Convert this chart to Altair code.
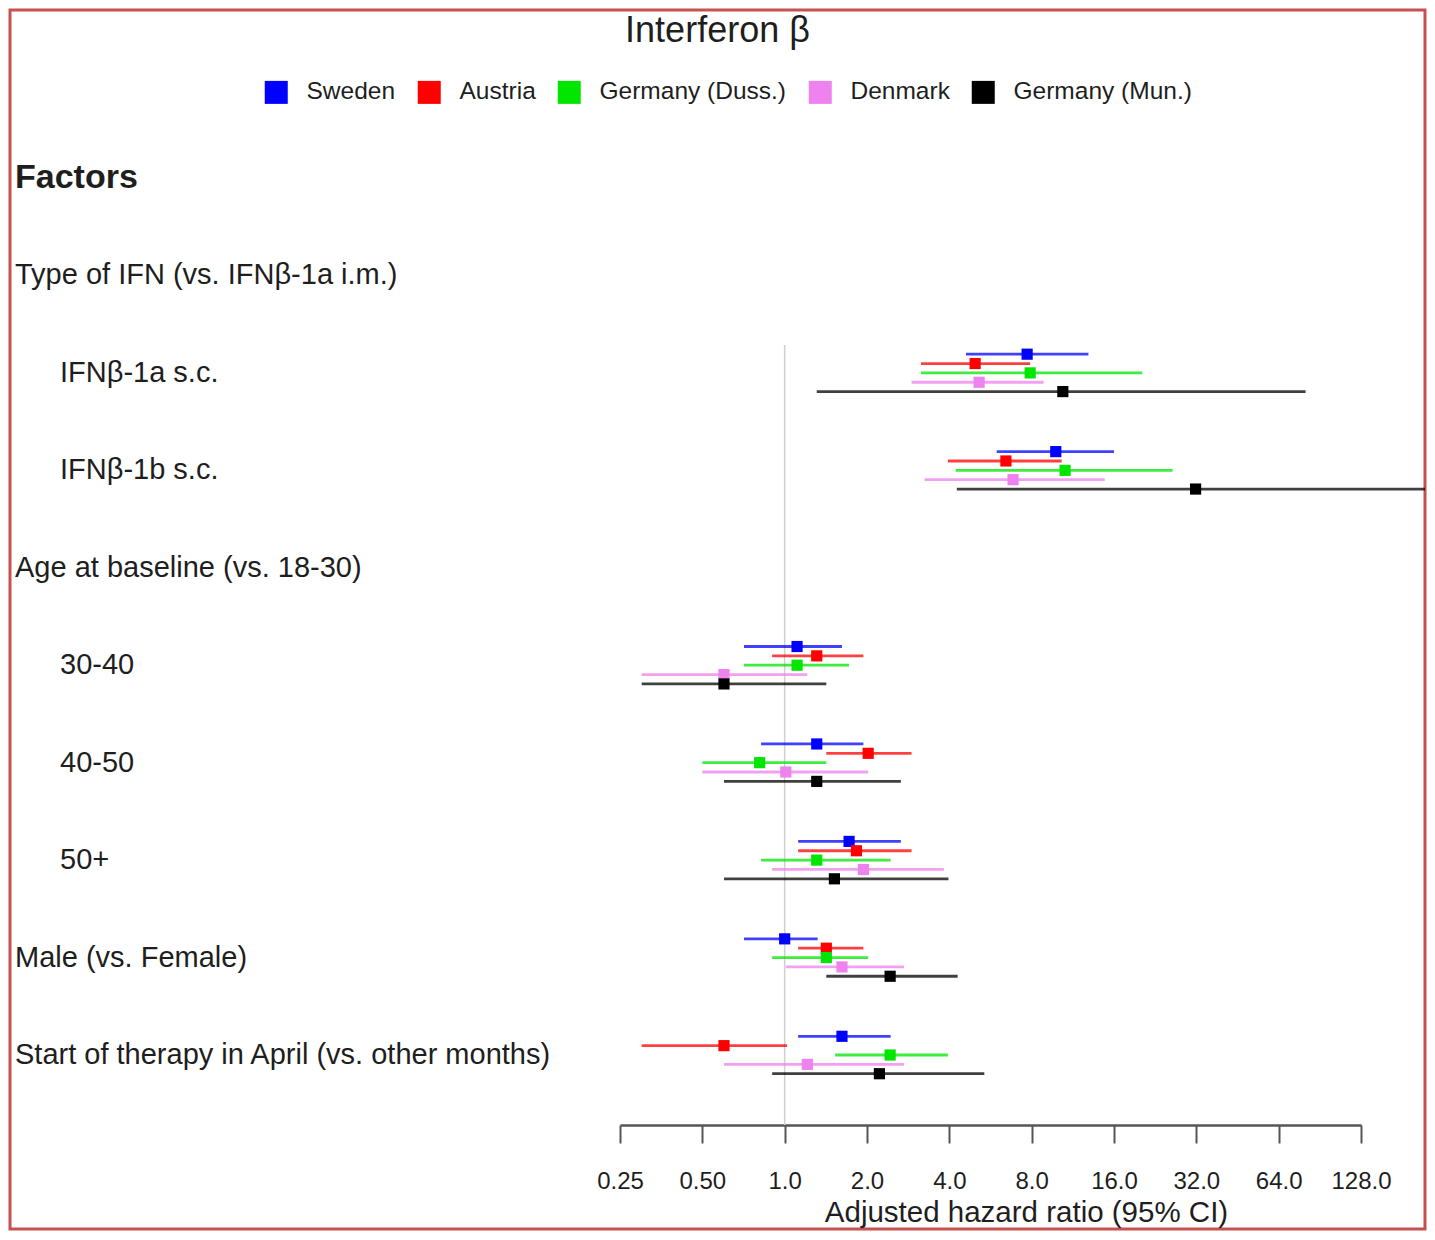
import altair as alt
import pandas as pd

title_text = "Interferon β"
x_title = "Adjusted hazard ratio (95% CI)"

countries = ["Sweden", "Austria", "Germany (Duss.)", "Denmark", "Germany (Mun.)"]
colors = ["#0000ff", "#ff0000", "#00e600", "#ee82ee", "#000000"]

row_labels = ["Factors", "Type of IFN (vs. IFNβ-1a i.m.)", "IFNβ-1a s.c.", "IFNβ-1b s.c.",
              "Age at baseline (vs. 18-30)", "30-40", "40-50", "50+",
              "Male (vs. Female)", "Start of therapy in April (vs. other months)"]
row_levels = ["bold", "header", "item", "item", "header", "item", "item", "item", "header", "header"]

items = ["IFNβ-1a s.c.", "IFNβ-1b s.c.", "30-40", "40-50", "50+",
         "Male (vs. Female)", "Start of therapy in April (vs. other months)"]

# hazard ratio, lower and upper 95% CI, per country, in the order of `items`
hr_sweden = [7.7, 9.8, 1.11, 1.31, 1.72, 1.0, 1.62]
lo_sweden = [4.6, 5.96, 0.71, 0.82, 1.12, 0.71, 1.12]
hi_sweden = [12.9, 16.0, 1.62, 1.94, 2.66, 1.32, 2.44]

hr_austria = [4.97, 6.44, 1.31, 2.02, 1.83, 1.42, 0.60]
lo_austria = [3.15, 3.95, 0.90, 1.42, 1.12, 1.12, 0.30]
hi_austria = [7.9, 10.3, 1.94, 2.91, 2.91, 1.94, 1.02]

hr_duss = [7.9, 10.6, 1.11, 0.81, 1.31, 1.42, 2.43]
lo_duss = [3.15, 4.22, 0.71, 0.50, 0.82, 0.90, 1.53]
hi_duss = [20.3, 26.2, 1.72, 1.42, 2.44, 2.02, 3.95]

hr_denmark = [5.14, 6.84, 0.60, 1.01, 1.94, 1.62, 1.21]
lo_denmark = [2.91, 3.25, 0.30, 0.50, 0.90, 1.01, 0.60]
hi_denmark = [8.85, 14.8, 1.21, 2.02, 3.82, 2.73, 2.73]

hr_munich = [10.4, 31.8, 0.60, 1.31, 1.52, 2.43, 2.22]
lo_munich = [1.31, 4.26, 0.30, 0.60, 0.60, 1.42, 0.90]
hi_munich = [80.3, 240.0, 1.42, 2.66, 3.97, 4.29, 5.37]

ticks = [0.25, 0.5, 1, 2, 4, 8, 16, 32, 64, 128]

series = [
    (hr_sweden, lo_sweden, hi_sweden),
    (hr_austria, lo_austria, hi_austria),
    (hr_duss, lo_duss, hi_duss),
    (hr_denmark, lo_denmark, hi_denmark),
    (hr_munich, lo_munich, hi_munich),
]

recs = []
for ci, (name, (hr, lo, hi)) in enumerate(zip(countries, series)):
    for ii, item in enumerate(items):
        row = row_labels.index(item)
        recs.append({"country": name, "item": item, "hr": hr[ii], "lo": lo[ii], "hi": hi[ii],
                     "pos": row + (ci - 2) * 0.096, "order": ci})
df = pd.DataFrame(recs)
labels_df = pd.DataFrame({"label": row_labels, "level": row_levels, "row": list(range(len(row_labels)))})
ref_df = pd.DataFrame({"v": [1]})

FONT = "Liberation Sans, Arial, Helvetica, sans-serif"
TXT = "#1e1e1e"
P = 2                      # padding so the frame stroke is fully visible
W, H = 1419 - 2 * P, 1223 - 2 * P

xscale = alt.Scale(type="log", base=2, domain=[ticks[0], ticks[-1]], range=[612 - P, 1353 - P], nice=False)
yscale = alt.Scale(domain=[0, len(row_labels) - 1], range=[170 - P, 1047 - P], nice=False, zero=False)
cscale = alt.Scale(domain=countries, range=colors)

AXIS_Y = 1117 - P
xaxis = alt.Axis(values=ticks, title=x_title, offset=AXIS_Y - H, grid=False,
                 labelExpr="datum.value < 1 ? format(datum.value, '.2f') : format(datum.value, '.1f')",
                 tickSize=18, tickWidth=2, tickColor="#555555", domainColor="#555555", domainWidth=2.5,
                 labelFont=FONT, labelFontSize=24, labelColor=TXT, labelPadding=26, labelFlush=False,
                 titleFont=FONT, titleFontSize=29.5, titleFontWeight="normal", titleColor=TXT,
                 titleX=1018 - P, titleY=87, titleBaseline="middle", titleAlign="center")

ref = alt.Chart(ref_df).mark_rule(color="#cfcfcf", strokeWidth=1.5).encode(
    x=alt.X("v:Q", scale=xscale, axis=xaxis), y=alt.value(337 - P), y2=alt.value(AXIS_Y))

ci_lines = alt.Chart(df).mark_rule(strokeWidth=2.8, opacity=0.75, clip=True).encode(
    x=alt.X("lo:Q", scale=xscale, axis=xaxis), x2="hi:Q",
    y=alt.Y("pos:Q", scale=yscale, axis=None),
    stroke=alt.Stroke("country:N", scale=cscale, legend=None))

points = alt.Chart(df).mark_square(size=125, opacity=1).encode(
    x=alt.X("hr:Q", scale=xscale, axis=xaxis),
    y=alt.Y("pos:Q", scale=yscale, axis=None),
    color=alt.Color("country:N", scale=cscale, sort=countries,
                    legend=alt.Legend(orient="none", legendX=256 - P, legendY=72 - P, direction="horizontal",
                                      title=None, symbolType="square", symbolSize=529,
                                      symbolStrokeWidth=0, symbolOpacity=1,
                                      labelFont=FONT, labelFontSize=24.5, labelColor=TXT,
                                      labelOffset=18, columnPadding=21, labelLimit=400)))

def text_layer(level, x, size, bold=False):
    return alt.Chart(labels_df).transform_filter(alt.datum.level == level).mark_text(
        align="left", baseline="middle", font=FONT, fontSize=size,
        fontWeight="bold" if bold else "normal", color=TXT).encode(
        x=alt.value(x - P), y=alt.Y("row:Q", scale=yscale, axis=None), text="label:N")

chart = alt.layer(
    ref, ci_lines, points,
    text_layer("bold", 7, 34, True), text_layer("header", 7, 29), text_layer("item", 52, 29),
).resolve_scale(stroke="independent").properties(
    width=W, height=H, padding=P,
    title=alt.TitleParams(title_text, font=FONT, fontSize=36, fontWeight="normal", color=TXT,
                          anchor="middle", offset=-(42 - P)),
).configure_view(stroke="#c8514f", strokeWidth=3)

chart.save("out.html", embed_options={"renderer": "svg", "actions": False})
